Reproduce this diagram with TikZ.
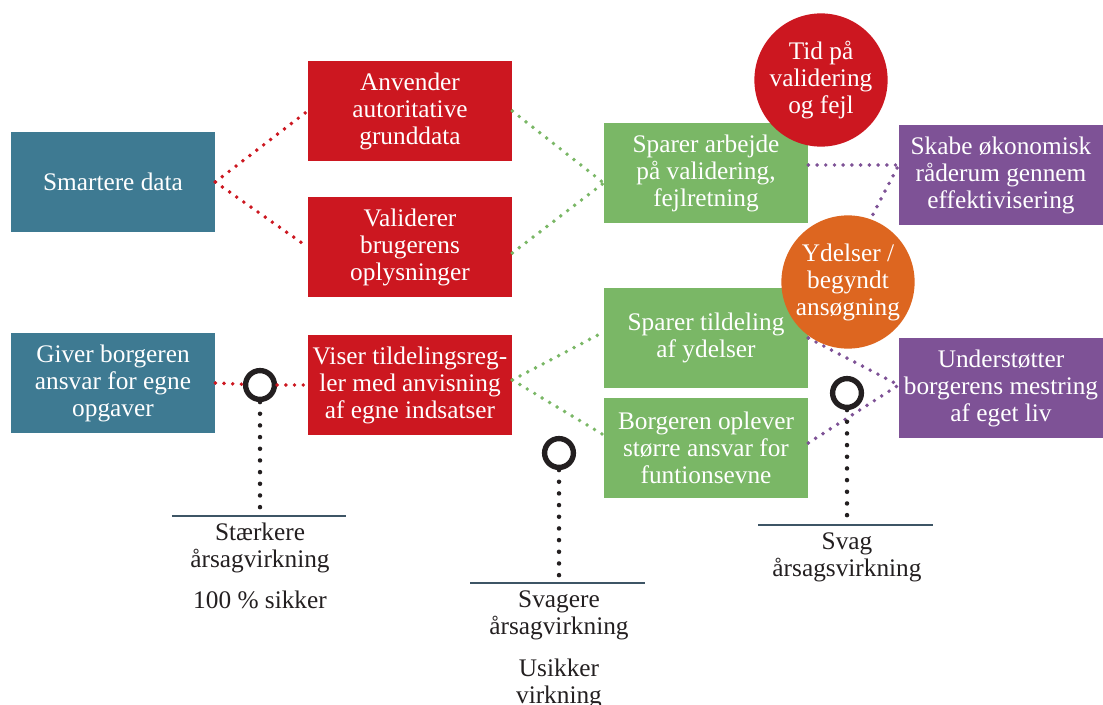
\documentclass[tikz,border=0pt]{standalone}
\usepackage{fontspec}
\setmainfont{Liberation Serif}
\usepackage{tikz}
\usetikzlibrary{positioning,calc}
\definecolor{petrol}{HTML}{3E7A92}
\definecolor{signal}{HTML}{CC1720}
\definecolor{leaf}{HTML}{7AB766}
\definecolor{plum}{HTML}{7E5296}
\definecolor{amber}{HTML}{DD6620}
\definecolor{slate}{HTML}{3E5565}
\definecolor{ink}{HTML}{231F20}

\begin{document}
\begin{tikzpicture}[
  x=0.025cm, y=-0.025cm,
  box/.style={rectangle, minimum width=5.1cm, minimum height=2.5cm,
              inner sep=1pt, align=center, text=white,
              font=\fontsize{18}{19.2}\selectfont},
  bubble/.style={circle, minimum size=3.33cm, inner sep=0pt,
                 align=center, text=white, font=\fontsize{18}{19.2}\selectfont},
  dots/.style={line width=2.8pt, line cap=round, dash pattern=on 0pt off 6.2pt},
  stem/.style={ink, line width=3.2pt, line cap=round, dash pattern=on 0pt off 8.3pt},
  ring/.style={circle, draw=ink, line width=3.8pt, minimum size=0.72cm, inner sep=0pt},
  base/.style={slate, line width=1.6pt},
  caption/.style={align=center, text=ink, inner sep=2pt,
                  font=\fontsize{18}{19.2}\selectfont},
]
  \useasboundingbox (0,0) rectangle (1103,704);

  % boxes
  \node[box, fill=petrol] (smart) at (113,182) {Smartere data};
  \node[box, fill=signal] (anvend) at (410,111) {Anvender\\autoritative\\grunddata};
  \node[box, fill=signal] (valid) at (410,247) {Validerer\\brugerens\\oplysninger};
  \node[box, fill=petrol] (giver) at (113,383) {Giver borgeren\\ansvar for egne\\opgaver};
  \node[box, fill=signal] (viser) at (410,385) {Viser tildelingsreg-\\ler med anvisning\\af egne indsatser};
  \node[box, fill=leaf] (sparval) at (706,173) {Sparer arbejde\\på validering,\\fejlretning};
  \node[box, fill=leaf] (spartild) at (706,338) {Sparer tildeling\\af ydelser};
  \node[box, fill=leaf] (borgopl) at (706,448) {Borgeren oplever\\større ansvar for\\funtionsevne};
  \node[box, fill=plum] (skabe) at (1001,175) {Skabe økonomisk\\råderum gennem\\effektivisering};
  \node[box, fill=plum] (understot) at (1001,388) {Understøtter\\borgerens mestring\\af eget liv};

  % markers
  \node[ring] (ring1) at (260,385) {};
  \node[ring] (ring2) at (559,453) {};
  \node[ring] (ring3) at (847,393) {};
  \coordinate (base1) at (260,516);
  \coordinate (base2) at (559,583);
  \coordinate (base3) at (847,525);

  % connectors
  \draw[dots, signal] (smart.east) -- (anvend.west);
  \draw[dots, signal] (smart.east) -- (valid.west);
  \draw[dots, signal] (giver.east) -- (ring1);
  \draw[dots, signal] (ring1) -- (viser.west);
  \draw[dots, leaf] (anvend.east) -- ($(sparval.west)+(0,10)$);
  \draw[dots, leaf] ($(valid.east)+(0,6)$) -- ($(sparval.west)+(0,10)$);
  \draw[dots, leaf] ($(viser.east)+(0,-5)$) -- ($(spartild.west)+(0,-6)$);
  \draw[dots, leaf] ($(viser.east)+(0,-5)$) -- ($(borgopl.west)+(0,-13)$);
  \draw[dots, plum] ($(sparval.east)+(0,-8)$) -- ($(skabe.west)+(0,-10)$);
  \draw[dots, plum] (spartild.east) -- ($(skabe.west)+(0,-10)$);
  \draw[dots, plum] (spartild.east) -- ($(understot.west)+(0,-3)$);
  \draw[dots, plum] ($(borgopl.east)+(0,-5)$) -- ($(understot.west)+(0,-3)$);

  \draw[stem] (ring1.south) -- (base1);
  \draw[stem] (ring2.south) -- (base2);
  \draw[stem] (ring3.south) -- (base3);
  \draw[base] ([xshift=-2.2cm]base1) -- ([xshift=2.15cm]base1);
  \draw[base] ([xshift=-2.22cm]base2) -- ([xshift=2.15cm]base2);
  \draw[base] ([xshift=-2.22cm]base3) -- ([xshift=2.15cm]base3);

  % bubbles
  \node[bubble, fill=signal] (tidcirc) at (821,80) {Tid på\\validering\\og fejl};
  \node[bubble, fill=amber] (ydelcirc) at (848,282) {Ydelser /\\begyndt\\ansøgning};

  % captions
  \node[caption, anchor=north] (strong) at (260,520) {Stærkere\\årsagvirkning};
  \node[caption, below=0.3cm of strong] (sure) {100 \% sikker};
  \node[caption, anchor=north] (weaker) at (559,588) {Svagere\\årsagvirkning};
  \node[caption, below=0.3cm of weaker] (unsure) {Usikker\\virkning};
  \node[caption, anchor=north] (weak) at (847,530) {Svag\\årsagsvirkning};
\end{tikzpicture}
\end{document}
